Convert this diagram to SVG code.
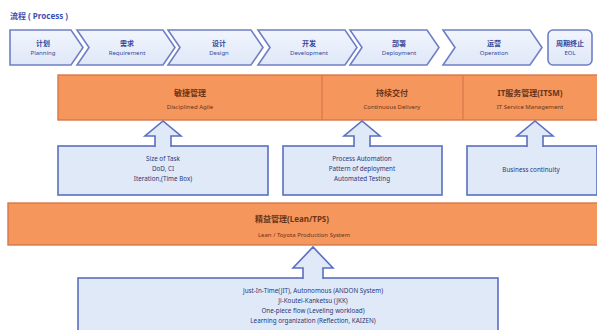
<svg xmlns="http://www.w3.org/2000/svg" width="597" height="330" viewBox="0 0 597 330">
<defs>
<linearGradient id="chev" x1="0" y1="0" x2="0" y2="1">
<stop offset="0" stop-color="#f1f5fd"/>
<stop offset="1" stop-color="#dfe7f7"/>
</linearGradient>
<style>
text{font-family:"Noto Sans","Noto Sans CJK SC",sans-serif;text-anchor:middle;font-weight:bold}
.chev{fill:url(#chev);stroke:#6f7fc6;stroke-width:1.6}
.cn{font-size:7px;fill:#34489a}
.en{font-size:6px;fill:#34489a;font-weight:normal}
.org{fill:#f5965c;stroke:#d9774a;stroke-width:1.4}
.div{stroke:#d9774a;stroke-width:1.2}
.ocn{font-size:8px;fill:#6a3418;font-weight:bold}
.oen{font-size:6px;fill:#6a3418;font-weight:normal}
.box{fill:#dfe9f8;stroke:#5a6fc0;stroke-width:1.6}
.arr{fill:#dfe9f8;stroke:#5a6fc0;stroke-width:1.6;stroke-linejoin:miter}
.bt{font-size:6.3px;fill:#2a3878;font-weight:normal}
</style>
</defs>
<rect width="597" height="330" fill="#ffffff"/>
<text x="10" y="19" style="text-anchor:start;font-size:8px;fill:#3a50b0">流程 ( Process )</text>

<g id="planning"><path class="chev" d="M10,30 H71 L83,47.5 L71,65 H10 Z"/><text class="cn" x="43" y="46">计划</text><text class="en" x="43" y="55">Planning</text></g>
<g id="requirement"><path class="chev" d="M77,30 H163 L175,47.5 L163,65 H77 L89,47.5 Z"/><text class="cn" x="127" y="46">需求</text><text class="en" x="127" y="55">Requirement</text></g>
<g id="design"><path class="chev" d="M168,30 H251 L263,47.5 L251,65 H168 L180,47.5 Z"/><text class="cn" x="219" y="46">设计</text><text class="en" x="219" y="55">Design</text></g>
<g id="development"><path class="chev" d="M258,30 H345 L357,47.5 L345,65 H258 L270,47.5 Z"/><text class="cn" x="309" y="46">开发</text><text class="en" x="309" y="55">Development</text></g>
<g id="deployment"><path class="chev" d="M350,30 H427 L439,47.5 L427,65 H350 L362,47.5 Z"/><text class="cn" x="399" y="46">部署</text><text class="en" x="399" y="55">Deployment</text></g>
<g id="operation"><path class="chev" d="M443,30 H530 L542,47.5 L530,65 H443 L455,47.5 Z"/><text class="cn" x="494" y="46">运营</text><text class="en" x="494" y="55">Operation</text></g>
<g id="eol"><rect class="chev" x="548" y="30" width="44" height="35" rx="5"/><text class="cn" x="570" y="46">周期终止</text><text class="en" x="570" y="55">EOL</text></g>

<g id="top-row">
<rect class="org" x="58" y="75" width="540" height="45"/>
<line class="div" x1="322" y1="75" x2="322" y2="120"/>
<line class="div" x1="463" y1="75" x2="463" y2="120"/>
</g>
<g id="agile"><text class="ocn" x="190" y="96">敏捷管理</text><text class="oen" x="190" y="109">Disciplined Agile</text></g>
<g id="cd"><text class="ocn" x="392" y="96">持续交付</text><text class="oen" x="392" y="109">Continuous Delivery</text></g>
<g id="itsm"><text class="ocn" x="530" y="96">IT服务管理(ITSM)</text><text class="oen" x="530" y="109">IT Service Management</text></g>

<g id="lean"><rect class="org" x="8" y="203" width="592" height="42"/><text class="ocn" x="292" y="222">精益管理(Lean/TPS)</text><text class="oen" x="304" y="237">Lean / Toyota Production System</text></g>

<g id="box-agile"><rect class="box" x="58" y="146" width="210" height="49"/><text class="bt" x="163" y="161">Size of Task</text><text class="bt" x="163" y="171">DoD, CI</text><text class="bt" x="163" y="181">Iteration,(Time Box)</text></g>
<g id="box-cd"><rect class="box" x="283" y="146" width="159" height="49"/><text class="bt" x="362" y="161">Process Automation</text><text class="bt" x="362" y="171">Pattern of deployment</text><text class="bt" x="362" y="181">Automated Testing</text></g>
<g id="box-itsm"><rect class="box" x="467" y="146" width="130" height="49"/><text class="bt" x="531" y="172">Business continuity</text></g>
<g id="box-lean"><rect class="box" x="78" y="278" width="420" height="60"/><text class="bt" x="313" y="293">Just-In-Time(JIT), Autonomous (ANDON System)</text><text class="bt" x="313" y="303">Ji-Koutei-Kanketsu (JKK)</text><text class="bt" x="313" y="313">One-piece flow (Leveling workload)</text><text class="bt" x="313" y="323">Learning organization (Reflection, KAIZEN)</text></g>

<g id="connectors">
<path class="arr" d="M155,147 V136 H145 L163,121 L181,136 H171 V147"/>
<path class="arr" d="M354,147 V136 H344 L362,121 L380,136 H370 V147"/>
<path class="arr" d="M527,147 V136 H517 L535,121 L553,136 H543 V147"/>
<path class="arr" d="M303,279 V268 H293 L313,247 L333,268 H323 V279"/>
</g>
</svg>
